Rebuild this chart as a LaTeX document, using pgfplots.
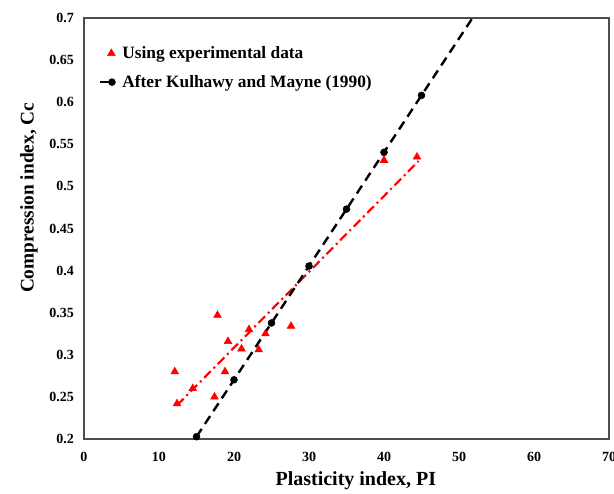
\documentclass[border=0pt]{standalone}
\usepackage{fontspec}
\setmainfont{Liberation Serif}
\usepackage{pgfplots}
\pgfplotsset{compat=1.18}
\begin{document}
\begin{tikzpicture}
\begin{axis}[
 scale only axis,width=393.75pt,height=315.75pt,
 xmin=0,xmax=70,ymin=0.2,ymax=0.7,
 xtick={0,10,...,70},ytick={0.2,0.25,...,0.7},
 major tick length=0pt,
 axis line style={draw=black!70,line width=1.1pt},
 /pgf/number format/assume math mode=true,
 tick label style={font=\bfseries\fontsize{10.5}{12}\selectfont},
 xticklabel style={yshift=-6pt},
 yticklabel style={xshift=-4pt},
 xlabel={\bfseries Plasticity index, PI},
 ylabel={\bfseries Compression index, Cc},
 xlabel style={font=\fontsize{15}{17}\selectfont,yshift=-1pt,xshift=7pt},
 ylabel style={font=\fontsize{14.5}{17}\selectfont,yshift=2pt,xshift=23pt},
 legend style={draw=none,fill=none,font=\bfseries\fontsize{13}{15}\selectfont,
   at={(0.02,0.946)},anchor=north west,row sep=7pt},
 legend cell align=left]
\addplot[only marks,mark=triangle*,mark size=3.3pt,color=red] coordinates {
 (17.8,0.347) (22.0,0.330) (27.6,0.334) (24.2,0.325) (19.2,0.316)
 (21.0,0.307) (23.3,0.306) (12.1,0.280) (18.8,0.280) (14.5,0.260)
 (17.4,0.250) (12.4,0.242) (40.0,0.531) (44.4,0.535)};
\addlegendentry{\hspace{3pt}Using experimental data}
\addplot[red,line width=1.6pt,dash pattern=on 7pt off 3pt on 1.5pt off 3pt,forget plot] coordinates {
 (12.4,0.240) (44.6,0.530)};
\addplot[black,line width=1.8pt,dash pattern=on 7pt off 4.5pt,forget plot] coordinates {
 (15,0.2027) (51.8,0.7)};
\addplot[only marks,mark=*,mark size=2.6pt,black,
 legend image code/.code={\draw[black,line width=1.8pt] (0pt,0pt) -- (9pt,0pt);
   \fill[black] (9pt,0pt) circle (2.6pt);}] coordinates {
 (15,0.2027) (20,0.2703) (25,0.3378) (30,0.4054) (35,0.4730) (40,0.5405) (45,0.6081)};
\addlegendentry{\hspace{3pt}After Kulhawy and Mayne (1990)}
\end{axis}
\pgfresetboundingbox
\path (current axis.south west) ++(-63pt,-41.25pt) coordinate (bl);
\path (current axis.north east) ++(3.75pt,13.5pt) coordinate (tr);
\path[use as bounding box] (bl) rectangle (tr);
\end{tikzpicture}
\end{document}
